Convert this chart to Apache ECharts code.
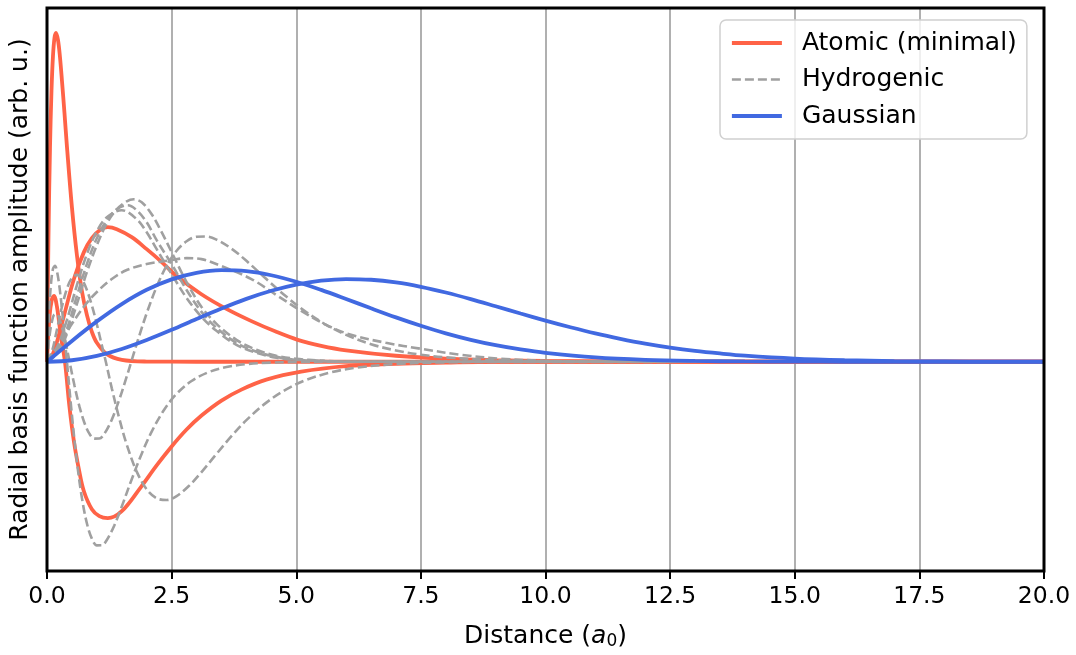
<!DOCTYPE html>
<html><head><meta charset="utf-8">
<script src="https://cdn.jsdelivr.net/npm/echarts@6/dist/echarts.min.js"></script>
<style>html,body{margin:0;padding:0;background:#fff}#c{width:1076px;height:655px}</style>
</head><body><div id="c"></div>
<script>
// ---- data (x in a0, y in arbitrary units) ----
const xTicks = [0, 2.5, 5, 7.5, 10, 12.5, 15, 17.5, 20];

const atomic1sX = [0,0.03,0.06,0.09,0.12,0.15,0.18,0.22,0.26,0.3,0.35,0.4,0.5,0.6,0.7,0.8,0.9,1.0,1.2,1.5,2.0,3.0,20];
const atomic1sY = [0,1.27,2.14,2.72,3.07,3.25,3.30,3.23,3.06,2.82,2.50,2.16,1.55,1.07,0.71,0.47,0.30,0.19,0.076,0.018,0.002,0,0];

const atomic2sX = [0,0.05,0.1,0.14,0.2,0.28,0.36,0.45,0.54,0.64,0.74,0.9,1.05,1.22,1.5,1.88,2.2,2.5,2.8,3.1,3.5,3.9,4.4,5.1,6,7,8,9,20];
const atomic2sY = [0,0.45,0.63,0.66,0.55,0.25,0,-0.45,-0.80,-1.08,-1.30,-1.48,-1.55,-1.57,-1.50,-1.26,-1.04,-0.85,-0.68,-0.54,-0.39,-0.28,-0.18,-0.10,-0.045,-0.02,-0.008,0,0];

const atomic2pX = [0,0.1,0.2,0.35,0.54,0.74,0.9,1.08,1.22,1.4,1.7,2.0,2.28,2.6,3.09,3.6,4.09,4.6,5.03,5.5,6,7,8,9,10,12,20];
const atomic2pY = [0,0.06,0.2,0.48,0.83,1.10,1.24,1.33,1.35,1.33,1.25,1.13,1.01,0.86,0.68,0.53,0.41,0.30,0.22,0.16,0.115,0.06,0.03,0.016,0.008,0.002,0];

const hyd2sX = [0,0.04,0.08,0.12,0.16,0.2,0.25,0.3,0.35,0.4,0.5,0.6,0.7,0.8,0.9,1.0,1.1,1.2,1.35,1.5,1.7,1.9,2.1,2.35,2.6,2.9,3.25,3.6,4.0,4.5,5,6,20];
const hyd2sY = [0,0.488,0.784,0.932,0.963,0.908,0.751,0.530,0.273,0,-0.536,-1.002,-1.366,-1.621,-1.775,-1.843,-1.842,-1.789,-1.643,-1.452,-1.179,-0.923,-0.701,-0.482,-0.322,-0.193,-0.103,-0.053,-0.024,-0.009,-0.003,0,0];

const hyd3sX = [0,0.05,0.1,0.15,0.2,0.25,0.3,0.37,0.45,0.55,0.65,0.75,0.85,0.95,1.05,1.15,1.3,1.45,1.6,1.7,1.85,2.0,2.2,2.4,2.6,2.8,3.0,3.2,3.4,3.7,4.0,4.4,4.8,5.2,5.6,6.0,6.5,7.0,7.5,8.0,9.0,10,11,12,20];
const hyd3sY = [0,0.257,0.407,0.474,0.476,0.430,0.350,0.201,0.007,-0.236,-0.448,-0.612,-0.721,-0.772,-0.771,-0.723,-0.581,-0.380,-0.147,0.016,0.259,0.487,0.753,0.963,1.114,1.209,1.254,1.257,1.226,1.135,1.013,0.830,0.654,0.499,0.371,0.270,0.176,0.113,0.071,0.044,0.016,0.0055,0.002,0.0006,0];

const hyd3pX = [0,0.1,0.2,0.3,0.4,0.5,0.6,0.7,0.8,0.9,1.0,1.1,1.18,1.3,1.45,1.6,1.8,2.0,2.2,2.4,2.6,2.85,3.1,3.4,3.7,4.0,4.4,4.8,5.2,5.7,6.2,7,8,9,20];
const hyd3pY = [0,0.106,0.324,0.552,0.733,0.842,0.872,0.827,0.720,0.565,0.376,0.166,0,-0.267,-0.569,-0.832,-1.103,-1.280,-1.370,-1.388,-1.348,-1.245,-1.107,-0.925,-0.747,-0.586,-0.410,-0.278,-0.183,-0.106,-0.060,-0.023,-0.006,-0.002,0];

const hydK1X = [0,0.2,0.4,0.6,0.8,1.0,1.2,1.4,1.6,1.74,1.9,2.1,2.3,2.5,2.8,3.1,3.4,3.8,4.2,4.6,5.0,5.5,6,20];
const hydK1Y = [0,0.08,0.28,0.58,0.90,1.17,1.39,1.53,1.61,1.63,1.60,1.48,1.30,1.10,0.80,0.55,0.38,0.22,0.12,0.06,0.03,0.01,0,0];
const hydK2X = [0,0.2,0.4,0.6,0.8,1.0,1.2,1.4,1.62,1.8,2.0,2.2,2.5,2.8,3.1,3.4,3.8,4.2,4.6,5.0,5.5,6,20];
const hydK2Y = [0,0.10,0.33,0.66,0.98,1.24,1.42,1.53,1.57,1.52,1.40,1.22,0.98,0.72,0.50,0.34,0.19,0.10,0.05,0.02,0.01,0,0];
const hydK3X = [0,0.2,0.4,0.6,0.8,1.0,1.2,1.5,1.8,2.0,2.2,2.5,2.8,3.1,3.4,3.8,4.2,4.6,5.0,6,20];
const hydK3Y = [0,0.14,0.42,0.77,1.08,1.31,1.45,1.52,1.43,1.30,1.13,0.88,0.64,0.45,0.31,0.17,0.09,0.04,0.02,0,0];

const hydDX = [0,0.25,0.5,0.75,1.0,1.3,1.6,2.0,2.5,2.8,3.1,3.5,4.1,4.6,5.1,5.6,6.1,6.8,7.5,8.3,9.1,10,11,20];
const hydDY = [0,0.18,0.38,0.56,0.70,0.83,0.92,0.98,1.02,1.04,1.03,0.96,0.83,0.67,0.51,0.37,0.27,0.19,0.13,0.07,0.03,0.01,0,0];

const gaussSX = [0,0.5,1,1.5,2,2.5,3,3.5,4,4.5,5,5.5,6,6.5,7,7.5,8,8.5,9,9.5,10,11,12,13,14,15,16,20];
const gaussSY = [0,0.209,0.405,0.579,0.722,0.827,0.893,0.919,0.909,0.868,0.803,0.721,0.630,0.536,0.445,0.361,0.285,0.220,0.166,0.123,0.089,0.043,0.019,0.008,0.003,0.001,0,0];

const gaussPX = [0,0.5,1,1.5,2,2.5,3,3.5,4,4.5,5,5.5,6,6.5,7,7.5,8,8.5,9,9.5,10,10.5,11,11.5,12,12.5,13,13.5,14,15,16,17,18,19,20];
const gaussPY = [0,0.015,0.059,0.128,0.218,0.320,0.429,0.534,0.631,0.712,0.774,0.814,0.830,0.823,0.796,0.752,0.695,0.629,0.557,0.484,0.413,0.346,0.284,0.230,0.182,0.142,0.109,0.083,0.061,0.032,0.016,0.007,0.003,0.001,0.0005];

// ---- chart ----
const FONT = 'DejaVu Sans';
const RED = '#ff6347', GRAY = '#a0a0a0', BLUE = '#4169e1';
const pts = (xs, ys) => xs.map((x, i) => [x, ys[i]]);

function mk(name, xs, ys, color, width, dashed, z) {
  return {
    name: name, type: 'line', data: pts(xs, ys),
    symbol: 'none', showSymbol: false, smooth: 0.35,
    lineStyle: { color: color, width: width, type: dashed ? [9, 4] : 'solid', cap: 'butt' },
    itemStyle: { color: color },
    emphasis: { disabled: true }, silent: true, z: z
  };
}

const series = [
  mk('Atomic (minimal)', atomic1sX, atomic1sY, RED, 3.8, false, 3),
  mk('Atomic (minimal)', atomic2sX, atomic2sY, RED, 3.8, false, 3),
  mk('Atomic (minimal)', atomic2pX, atomic2pY, RED, 3.8, false, 3),
  mk('Hydrogenic', hyd2sX, hyd2sY, GRAY, 2.6, true, 4),
  mk('Hydrogenic', hyd3sX, hyd3sY, GRAY, 2.6, true, 4),
  mk('Hydrogenic', hyd3pX, hyd3pY, GRAY, 2.6, true, 4),
  mk('Hydrogenic', hydK1X, hydK1Y, GRAY, 2.6, true, 4),
  mk('Hydrogenic', hydK2X, hydK2Y, GRAY, 2.6, true, 4),
  mk('Hydrogenic', hydK3X, hydK3Y, GRAY, 2.6, true, 4),
  mk('Hydrogenic', hydDX, hydDY, GRAY, 2.6, true, 4),
  mk('Gaussian', gaussSX, gaussSY, BLUE, 3.8, false, 5),
  mk('Gaussian', gaussPX, gaussPY, BLUE, 3.8, false, 5)
];

const chart = echarts.init(document.getElementById('c'), null, { renderer: 'canvas' });
chart.setOption({
  animation: false,
  backgroundColor: '#ffffff',
  textStyle: { fontFamily: FONT },
  grid: { left: 46, right: 32, top: 8, bottom: 82, show: true, borderColor: '#000', borderWidth: 3, backgroundColor: 'transparent', z: 10 },
  legend: {
    data: [
      { name: 'Atomic (minimal)', lineStyle: { width: 3.8, color: RED, type: 'solid' } },
      { name: 'Hydrogenic', lineStyle: { width: 2.6, color: GRAY, type: [9, 4] } },
      { name: 'Gaussian', lineStyle: { width: 3.8, color: BLUE, type: 'solid' } }
    ],
    orient: 'vertical', left: 720, top: 20,
    itemWidth: 50, itemHeight: 14, itemGap: 10.5,
    padding: [10, 10, 10, 10],
    itemStyle: { opacity: 0 },
    backgroundColor: 'rgba(255,255,255,0.8)', borderColor: '#d0d0d0', borderWidth: 1.5, borderRadius: 6,
    textStyle: { fontFamily: FONT, fontSize: 25, color: '#000', lineHeight: 26, padding: [0, 0, 0, 15] },
    selectedMode: false, z: 20
  },
  xAxis: {
    type: 'value', min: 0, max: 20, interval: 2.5,
    name: 'Distance ({i|a}{s|0})', nameLocation: 'middle', nameGap: 52,
    nameTextStyle: { fontFamily: FONT, fontSize: 25, color: '#000',
      rich: { i: { fontFamily: FONT, fontSize: 25, fontStyle: 'italic', color: '#000' },
              s: { fontFamily: FONT, fontSize: 17, color: '#000', padding: [10, 0, 0, 0] } } },
    axisLine: { show: false, onZero: false },
    axisTick: { show: true, length: 8, inside: false, lineStyle: { color: '#000', width: 2 } },
    axisLabel: { fontFamily: FONT, fontSize: 23.5, color: '#000', margin: 14, formatter: v => v.toFixed(1) },
    splitLine: { show: true, lineStyle: { color: '#b0b0b0', width: 2 } }
  },
  yAxis: {
    type: 'value', min: -2.1, max: 3.55,
    name: 'Radial basis function amplitude (arb. u.)', nameLocation: 'middle', nameGap: 14,
    nameTextStyle: { fontFamily: FONT, fontSize: 25, color: '#000' },
    axisLine: { show: false, onZero: false }, axisTick: { show: false }, axisLabel: { show: false }, splitLine: { show: false }
  },
  series: series
});
</script>
</body></html>
